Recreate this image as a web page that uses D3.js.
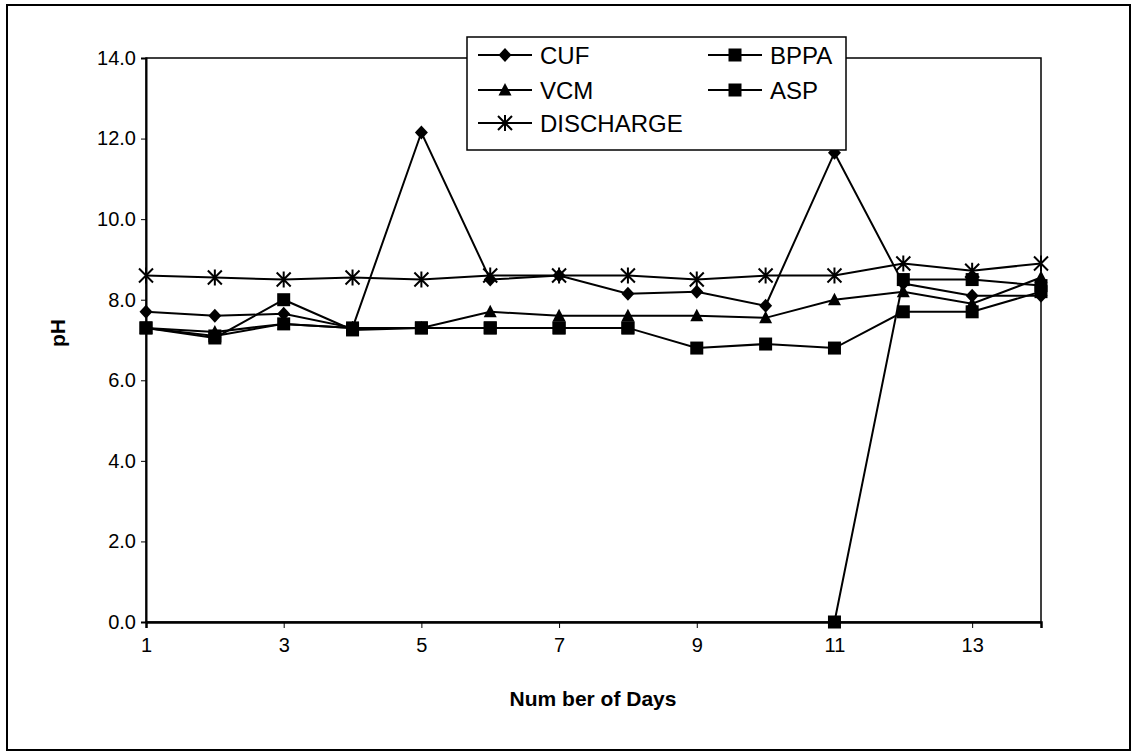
<!DOCTYPE html>
<html>
<head>
<meta charset="utf-8">
<script src="https://cdn.jsdelivr.net/npm/d3@7"></script>
<style>
  html, body { margin: 0; padding: 0; background: #fff; }
  svg { display: block; }
  text { font-family: Arial, "Liberation Sans", sans-serif; fill: #000; }
</style>
</head>
<body>
<svg id="chart" width="1138" height="752"></svg>
<script>
// ---- data ----
const days = [1, 2, 3, 4, 5, 6, 7, 8, 9, 10, 11, 12, 13, 14];
const cuf = [7.7, 7.6, 7.65, 7.3, 12.15, 8.5, 8.6, 8.15, 8.2, 7.85, 11.65, 8.4, 8.1, 8.1];
const bppa = [7.3, 7.05, 8.0, 7.25, 7.3, 7.3, 7.3, 7.3, 6.8, 6.9, 6.8, 7.7, 7.7, 8.2];
const vcm = [7.3, 7.2, 7.4, 7.3, 7.3, 7.7, 7.6, 7.6, 7.6, 7.55, 8.0, 8.2, 7.9, 8.55];
const asp = [7.3, 7.1, 7.4, 7.3, 7.3, 7.3, 7.3, 7.3, null, null, 0.0, 8.5, 8.5, 8.35];
const discharge = [8.6, 8.55, 8.5, 8.55, 8.5, 8.6, 8.6, 8.6, 8.5, 8.6, 8.6, 8.9, 8.72, 8.9];
const xTicks = [1, 3, 5, 7, 9, 11, 13];
const yTicks = [0, 2, 4, 6, 8, 10, 12, 14];
const seriesNames = ["CUF", "BPPA", "VCM", "ASP", "DISCHARGE"];

const series = [
  { name: "CUF", values: cuf, marker: "diamond" },
  { name: "BPPA", values: bppa, marker: "square" },
  { name: "VCM", values: vcm, marker: "triangle" },
  { name: "ASP", values: asp, marker: "square" },
  { name: "DISCHARGE", values: discharge, marker: "star" }
];

// ---- layout ----
const svg = d3.select("#chart");
const L = 146, R = 1041, T = 58, B = 622;
const x = d3.scaleLinear().domain([1, 14]).range([L, R]);
const y = d3.scaleLinear().domain([0, 14]).range([B, T]);

// outer border
svg.append("rect").attr("x", 7).attr("y", 5).attr("width", 1123).attr("height", 745)
  .attr("fill", "none").attr("stroke", "#000").attr("stroke-width", 2);

// plot frame (top/right)
svg.append("rect").attr("x", L).attr("y", T).attr("width", R - L).attr("height", B - T)
  .attr("fill", "none").attr("stroke", "#000").attr("stroke-width", 1.5);

// axes
const yAxis = d3.axisLeft(y).tickValues(yTicks).tickFormat(d3.format(".1f")).tickSize(5).tickPadding(5);
const gy = svg.append("g").attr("transform", `translate(${L},0)`).call(yAxis);
gy.selectAll("text").style("font-size", "20px");
gy.select(".domain").attr("stroke-width", 2);

const xAxis = d3.axisBottom(x).tickValues(xTicks).tickFormat(d3.format("d")).tickSize(6).tickPadding(10);
const gx = svg.append("g").attr("transform", `translate(0,${B})`).call(xAxis);
gx.selectAll("text").style("font-size", "20px");
gx.select(".domain").attr("stroke-width", 2.5);

// axis titles
svg.append("text").attr("x", 593).attr("y", 706).attr("text-anchor", "middle")
  .style("font-size", "21px").style("font-weight", "bold").text("Num ber of Days");
svg.append("text").attr("transform", "translate(65,333) rotate(-90)").attr("text-anchor", "middle")
  .style("font-size", "21px").style("font-weight", "bold").text("pH");

// marker drawing
function drawMarker(g, type, cx, cy) {
  if (type === "diamond") {
    g.append("path").attr("d", `M${cx},${cy - 7}L${cx + 6.5},${cy}L${cx},${cy + 7}L${cx - 6.5},${cy}Z`).attr("fill", "#000");
  } else if (type === "square") {
    g.append("rect").attr("x", cx - 6.5).attr("y", cy - 6.5).attr("width", 13).attr("height", 13).attr("fill", "#000");
  } else if (type === "triangle") {
    g.append("path").attr("d", `M${cx},${cy - 7}L${cx + 6.5},${cy + 5.5}L${cx - 6.5},${cy + 5.5}Z`).attr("fill", "#000");
  } else if (type === "star") {
    const s = 7;
    g.append("path").attr("d",
      `M${cx - s},${cy - s}L${cx + s},${cy + s}M${cx - s},${cy + s}L${cx + s},${cy - s}M${cx},${cy - s - 1}L${cx},${cy + s + 1}`)
      .attr("stroke", "#000").attr("stroke-width", 2).attr("fill", "none");
  }
}

// series
const line = d3.line().defined(d => d.v !== null).x(d => x(d.d)).y(d => y(d.v));
series.forEach(s => {
  const pts = days.map((d, i) => ({ d: d, v: s.values[i] }));
  const g = svg.append("g");
  g.append("path").datum(pts).attr("d", line).attr("fill", "none")
    .attr("stroke", "#000").attr("stroke-width", 2);
  pts.filter(p => p.v !== null).forEach(p => drawMarker(g, s.marker, x(p.d), y(p.v)));
});

// legend
const lg = svg.append("g");
lg.append("rect").attr("x", 467).attr("y", 37).attr("width", 379).attr("height", 113)
  .attr("fill", "#fff").attr("stroke", "#000").attr("stroke-width", 1.5);
const legendPos = [
  { name: "CUF", col: 0, row: 0 },
  { name: "BPPA", col: 1, row: 0 },
  { name: "VCM", col: 0, row: 1 },
  { name: "ASP", col: 1, row: 1 },
  { name: "DISCHARGE", col: 0, row: 2 }
];
const colX = [478, 708];
const rowY = [55, 90, 123];
legendPos.forEach(p => {
  const s = series.find(q => q.name === p.name);
  const lx = colX[p.col], ly = rowY[p.row];
  lg.append("line").attr("x1", lx).attr("x2", lx + 54).attr("y1", ly).attr("y2", ly)
    .attr("stroke", "#000").attr("stroke-width", 2);
  drawMarker(lg, s.marker, lx + 27, ly);
  lg.append("text").attr("x", lx + 62).attr("y", ly).attr("dy", "0.36em")
    .style("font-size", "24px").text(s.name);
});
</script>
</body>
</html>
